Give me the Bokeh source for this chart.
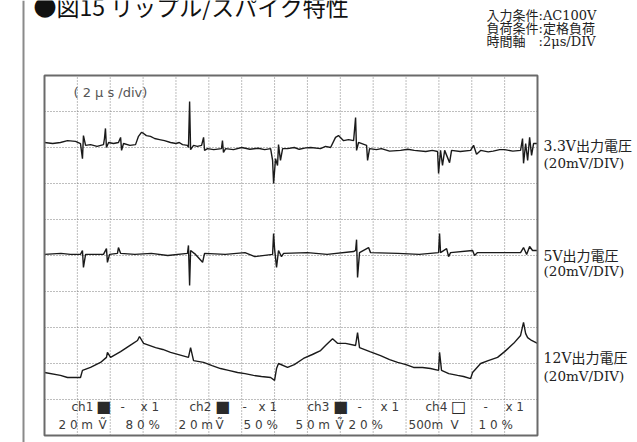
from bokeh.plotting import figure
from bokeh.models import Range1d, Label, Span
from bokeh.embed import file_html
from bokeh.resources import INLINE

# ---- data: time in microseconds, level in screen divisions (20 mV/div) ----
t_33 = [0, 0.5, 0.97, 1.4, 1.89, 2.19, 2.31, 2.37, 2.50, 2.80, 3.2, 3.59, 3.65, 3.71, 3.77, 3.90, 4.2, 4.50,
        4.63, 4.69, 4.81, 5.2, 5.54, 5.72, 5.90, 6.03, 6.2, 6.45, 6.7, 7.0, 7.3, 7.67, 8.0, 8.2, 8.4, 8.70,
        8.76, 8.83, 8.89, 9.07, 9.3, 9.56, 9.68, 9.74, 9.92, 10.3, 10.77, 10.83, 10.89, 11.02, 11.5, 12.0,
        12.5, 13.0, 13.4, 13.76, 13.88, 13.94, 14.06, 14.18, 14.24, 14.36, 14.49, 14.79, 15.2, 15.5, 15.9,
        16.2, 16.8, 17.1, 17.41, 17.71, 17.89, 18.20, 18.5, 18.81, 18.93, 18.99, 19.11, 19.60, 19.66, 19.78,
        20.2, 20.5, 21.0, 21.67, 22.1, 22.5, 23.2, 23.6, 23.92, 23.98, 24.10, 24.22, 24.35, 24.65, 24.77,
        25.3, 25.93, 26.11, 26.29, 26.54, 27.0, 27.3, 27.7, 28.0, 28.5, 28.97, 29.09, 29.15, 29.28, 29.40,
        29.52, 29.64, 29.76, 30.0]
v_33 = [8.14, 8.11, 8.14, 8.19, 8.17, 8.11, 7.69, 8.33, 8.06, 8.08, 8.03, 8.08, 8.25, 8.53, 8.00, 8.14, 8.11,
        8.14, 8.28, 7.92, 8.11, 8.06, 8.08, 8.31, 8.42, 8.39, 8.33, 8.31, 8.25, 8.22, 8.19, 8.14, 8.11, 8.14,
        8.08, 8.06, 8.00, 9.28, 7.94, 8.06, 8.03, 8.06, 8.28, 7.92, 7.97, 7.94, 7.97, 8.19, 7.86, 7.97,
        7.94, 8.00, 7.95, 7.98, 7.94, 7.97, 7.64, 7.00, 7.69, 7.50, 8.08, 7.64, 7.97, 7.97, 8.00, 7.95, 7.99,
        8.00, 7.97, 8.03, 8.00, 8.28, 8.33, 8.19, 8.22, 8.19, 8.83, 7.92, 8.14, 8.06, 7.64, 7.97, 7.94,
        7.97, 7.90, 7.92, 7.95, 7.92, 7.89, 7.92, 7.89, 7.28, 7.92, 7.50, 7.92, 7.58, 7.92, 7.89,
        7.92, 8.06, 7.81, 7.92, 7.88, 7.90, 7.94, 7.94, 7.90, 7.92, 8.25, 7.56, 8.11, 7.64,
        8.28, 7.78, 8.11, 8.11]

t_5 = [0, 1.0, 1.58, 2.19, 2.31, 2.37, 2.50, 3.59, 3.77, 3.83, 3.96, 4.44, 4.50, 4.63, 5.5, 6.5, 7.5, 8.70,
       8.76, 8.83, 8.89, 9.19, 9.62, 9.74, 11.0, 12.2, 12.8, 13.88, 13.94, 14.00, 14.12, 14.24, 14.42,
       14.55, 16.0, 17.2, 18.81, 18.93, 18.99, 19.05, 19.17, 19.72, 19.84, 21.5, 22.8, 23.98, 24.04, 24.10,
       24.47, 24.59, 24.71, 26.05, 26.17, 26.35, 27.5, 28.97, 29.15, 29.34, 29.52, 29.70, 30.0]
v_5 = [5.03, 5.06, 5.03, 5.03, 5.14, 4.67, 5.03, 5.03, 5.19, 4.81, 5.03, 5.06, 5.22, 5.06, 5.03, 5.06, 5.00, 5.06,
       5.28, 4.17, 5.14, 5.03, 4.81, 5.06, 5.03, 5.08, 4.97, 5.03, 5.61, 5.19, 4.67, 5.14, 4.97,
       5.06, 5.08, 5.03, 5.11, 5.14, 5.44, 4.39, 5.08, 5.22, 5.08, 5.06, 5.03, 5.08, 5.61, 5.08,
       5.19, 4.97, 5.08, 5.14, 5.00, 5.08, 5.08, 5.08, 5.22, 5.03, 5.25, 5.14, 5.14]

t_12 = [0, 0.97, 1.40, 2.07, 2.19, 2.31, 2.80, 3.41, 3.77, 3.83, 4.02, 4.63, 5.0, 5.3, 5.66, 5.78, 6.03, 6.76,
        7.2, 7.67, 8.76, 8.89, 9.07, 9.68, 10.2, 10.71, 11.2, 11.75, 12.2, 12.72, 13.2, 13.76, 14.00, 14.12,
        14.24, 14.79, 15.2, 15.76, 16.3, 16.80, 17.1, 17.53, 17.83, 18.32, 18.93, 19.05, 19.17, 19.8, 20.45,
        21.0, 21.49, 22.0, 22.46, 23.0, 23.49, 23.98, 24.04, 24.16, 24.6, 25.14, 25.5, 25.93, 26.05, 26.54,
        27.0, 27.57, 28.0, 28.55, 28.97, 29.15, 29.28, 29.40, 29.64, 30.0]
v_12 = [1.75, 1.67, 1.61, 1.61, 1.61, 1.81, 1.89, 2.03, 2.17, 2.31, 2.17, 2.33, 2.44, 2.53, 2.64, 2.75, 2.56,
        2.44, 2.39, 2.31, 2.17, 2.44, 2.08, 2.03, 1.94, 1.86, 1.81, 1.75, 1.72, 1.67, 1.64, 1.61, 1.53, 1.86,
        2.00, 1.89, 1.97, 2.14, 2.25, 2.36, 2.50, 2.69, 2.56, 2.56, 2.50, 2.86, 2.44, 2.33, 2.22,
        2.11, 2.03, 1.97, 1.89, 1.89, 1.86, 1.81, 2.31, 1.81, 1.72, 1.67, 1.64, 1.58, 1.75, 2.00,
        2.08, 2.17, 2.33, 2.56, 2.78, 3.14, 2.83, 2.72, 2.64, 2.56]

screen_t = [0, 30]          # time span of the scope screen (15 div x 2 us)
screen_v = [0, 10]          # 10 vertical divisions
x_ticks = [2, 4, 6, 8, 10, 12, 14, 16, 18, 20, 22, 24, 26, 28]
y_ticks = [1, 2, 3, 4, 5, 6, 7, 8, 9]

title_text = "●図15 リップル/スパイク特性"
cond_lines = ["入力条件:AC100V", "負荷条件:定格負荷", "時間軸　:2μs/DIV"]
ch_names = ["3.3V出力電圧", "5V出力電圧", "12V出力電圧"]
ch_scale = "(20mV/DIV)"
row1 = ["ch1", "-", "x 1", "ch2", "-", "x 1", "ch3", "-", "x 1", "ch4", "-", "x 1"]
marks = ["■", "■", "■", "□"]
row2 = ["2 0 m", "Ṽ", "8 0 %", "2 0 m", "Ṽ", "5 0 %", "5 0 m", "Ṽ", "2 0 %", "500m", "V", "1 0 %"]

# ---- figure: the frame covers the whole canvas ----
p = figure(width=637, height=442, output_backend="svg", toolbar_location=None,
           x_axis_type=None, y_axis_type=None,
           x_range=Range1d(-44 / 16.4333, 593 / 16.4333),
           y_range=Range1d(-7 / 36.0, 435 / 36.0),
           min_border_left=0, min_border_right=0, min_border_top=0, min_border_bottom=0)
p.outline_line_color = None
p.background_fill_color = "white"
p.border_fill_color = "white"
p.grid.visible = False

# dotted graticule
p.segment(x0=x_ticks, y0=[screen_v[0]] * len(x_ticks), x1=x_ticks, y1=[screen_v[1]] * len(x_ticks),
          line_color="#7c7c7c", line_dash="1 2", line_width=1)
p.segment(x0=[screen_t[0]] * len(y_ticks), y0=y_ticks, x1=[screen_t[1]] * len(y_ticks), y1=y_ticks,
          line_color="#7c7c7c", line_dash="1 2", line_width=1)

for t, v in [(t_33, v_33), (t_5, v_5), (t_12, v_12)]:
    p.line(t, v, line_color="#1a1a1a", line_width=1.4)

# screen border
p.quad(left=[screen_t[0]], right=[screen_t[1]], bottom=[screen_v[0]], top=[screen_v[1]],
       fill_color=None, line_color="#6a6a6a", line_width=2)

# page rule at left
p.add_layout(Span(location=-21 / 16.4333, dimension="height", line_color="#8a8a8a", line_width=2))

CJK = "'Noto Sans CJK JP'"
SERIF = "'DejaVu Serif', 'Noto Sans CJK JP'"

p.add_layout(Label(x=-0.67, y=11.92, text=title_text, text_font=CJK, text_font_size="23px",
                   text_baseline="alphabetic", text_color="#111111"))
for txt, yy in zip(cond_lines, [11.67, 11.31, 10.94]):
    p.add_layout(Label(x=26.90, y=yy, text=txt, text_font=SERIF, text_font_size="13px",
                       text_baseline="middle", text_color="#222222"))
for name, y1, y2 in zip(ch_names, [8.03, 5.0, 2.14], [7.58, 4.56, 1.64]):
    p.add_layout(Label(x=30.37, y=y1, text=name, text_font=SERIF, text_font_size="14px",
                       text_baseline="middle", text_color="#222222"))
    p.add_layout(Label(x=30.37, y=y2, text=ch_scale, text_font=SERIF, text_font_size="13.5px",
                       text_baseline="middle", text_color="#222222"))

p.add_layout(Label(x=1.76, y=9.53, text="( 2 μ s /div)", text_font="DejaVu Sans", text_font_size="13px",
                   text_baseline="middle", text_color="#555555"))

r1x = [1.64, 4.62, 5.84, 8.82, 12.05, 13.02, 16.00, 19.05, 20.45, 23.18, 26.71, 28.05]
for txt, xx in zip(row1, r1x):
    p.add_layout(Label(x=xx, y=0.80, text=txt, text_font="DejaVu Sans", text_font_size="12px",
                       text_baseline="middle", text_color="#3c3c3c"))
mx = [3.29, 10.53, 17.71, 24.89]
for txt, xx in zip(marks, mx):
    p.add_layout(Label(x=xx - 0.15, y=0.80, text=txt, text_font="DejaVu Sans", text_font_size="16px",
                       text_baseline="middle", text_color="#2a2a2a"))
r2x = [0.85, 3.29, 4.93, 8.15, 10.41, 12.11, 15.27, 17.71, 18.50, 22.15, 24.71, 26.41]
for txt, xx in zip(row2, r2x):
    p.add_layout(Label(x=xx, y=0.28, text=txt, text_font="DejaVu Sans", text_font_size="12px",
                       text_baseline="middle", text_color="#3c3c3c"))

open("out.html", "w").write(file_html(p, INLINE))
